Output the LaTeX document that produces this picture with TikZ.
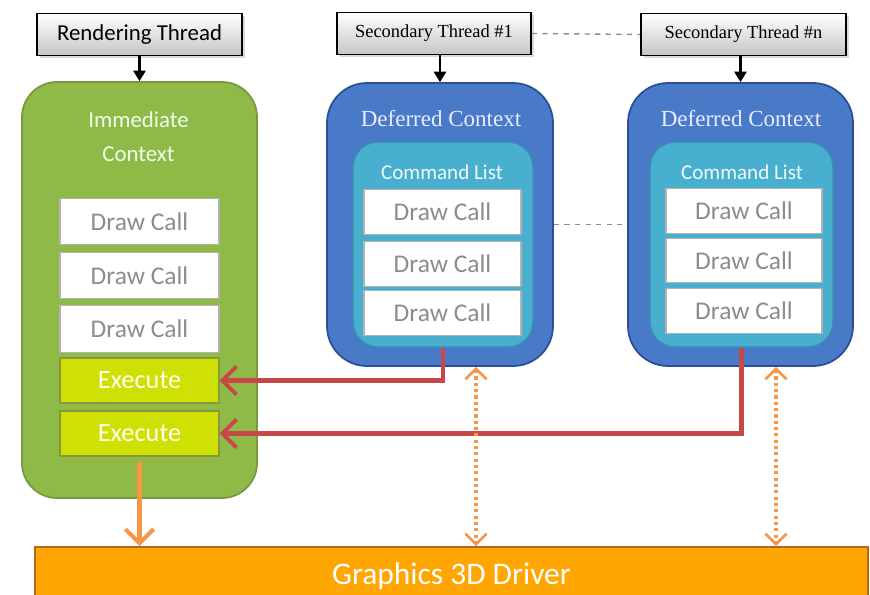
\documentclass[tikz,border=0pt]{standalone}
\usepackage{fontspec}
\setmainfont{Carlito}
\newfontfamily\timesfont{Liberation Serif}
\usetikzlibrary{arrows.meta, positioning, shadows}
\definecolor{ImmGreen}{RGB}{143,186,72}
\definecolor{ImmBorder}{RGB}{118,152,62}
\definecolor{ExecLime}{RGB}{207,224,4}
\definecolor{ExecBorder}{RGB}{140,150,60}
\definecolor{DefBlue}{RGB}{72,122,200}
\definecolor{DefBorder}{RGB}{44,78,150}
\definecolor{ListCyan}{RGB}{72,176,206}
\definecolor{ListBorder}{RGB}{58,140,176}
\definecolor{CallGray}{RGB}{140,140,140}
\definecolor{ArrowRed}{RGB}{200,72,74}
\definecolor{ArrowOrange}{RGB}{247,150,70}
\definecolor{DriverOrange}{RGB}{255,166,0}
\definecolor{DriverBorder}{RGB}{190,100,30}
\definecolor{DashGray}{RGB}{140,140,170}

\tikzset{
	threadbox/.style={draw=black, line width=1pt, top color=white, bottom color=gray!45,
		drop shadow={opacity=0.3, shadow xshift=1.5pt, shadow yshift=-1.5pt},
		inner sep=0pt, minimum height=0.84cm},
	immbox/.style={draw=ImmBorder, fill=ImmGreen, line width=1pt, rounded corners=0.7cm, inner sep=0pt},
	defbox/.style={draw=DefBorder, fill=DefBlue, line width=1pt, rounded corners=0.8cm, inner sep=0pt},
	listbox/.style={draw=ListBorder, fill=ListCyan, line width=0.8pt, rounded corners=0.5cm, inner sep=0pt},
	callbox/.style={draw=gray!60, fill=white, line width=0.6pt, inner sep=0pt,
		text=CallGray, font=\fontsize{14.5}{16}\selectfont},
	execbox/.style={draw=ExecBorder, fill=ExecLime, line width=0.6pt, inner sep=0pt,
		minimum width=3.18cm, minimum height=0.9cm, text=yellow!8!white, font=\fontsize{15}{17}\selectfont},
	redarrow/.style={draw=ArrowRed, line width=2.3pt, -{Straight Barb[length=8pt, width=16pt, line width=2.3pt]}},
	orangearrow/.style={draw=ArrowOrange, line width=2.3pt, -{Straight Barb[length=8pt, width=16pt, line width=2.3pt]}},
	dotarrow/.style={draw=ArrowOrange, line width=1.8pt, dash pattern=on 1.8pt off 1.8pt,
		{Straight Barb[length=6pt, width=12pt, line width=1.5pt]}-{Straight Barb[length=6pt, width=12pt, line width=1.5pt]}},
	blackarrow/.style={draw=black, line width=1.2pt, -{Triangle[length=6pt, width=7pt]}}
}

\begin{document}
\begin{tikzpicture}
	\useasboundingbox (0,0) rectangle (17.4,11.88);
	% thread boxes
	\node[threadbox, minimum width=4.10cm, font=\fontsize{13}{15}\selectfont] (rt) at (2.79,11.19) {Rendering Thread};
	\node[threadbox, minimum width=3.88cm, font=\timesfont\fontsize{10.5}{12}\selectfont] (st1) at (8.68,11.21) {Secondary Thread \#1};
	\node[threadbox, minimum width=4.10cm, font=\timesfont\fontsize{10.5}{12}\selectfont] (stn) at (14.87,11.19) {Secondary Thread \#n};
	\draw[DashGray, line width=0.8pt, dashed] (st1.east) -- (stn.west);

	% immediate context
	\node[immbox, minimum width=4.70cm, minimum height=8.32cm] (ic) at (2.79,6.08) {};
	\node[align=center, text=green!8!white, font=\fontsize{13}{19}\selectfont] (iclabel) at (2.77,9.15) {Immediate\\Context};
	\foreach \y/\n in {7.45/1, 6.37/2, 5.30/3}
		{\node[callbox, minimum width=3.18cm, minimum height=0.93cm] (icc\n) at (2.79,\y) {Draw Call};}
	\node[execbox] (ex1) at (2.79,4.27) {Execute};
	\node[execbox] (ex2) at (2.79,3.21) {Execute};

	% deferred contexts
	\node[defbox, minimum width=4.52cm, minimum height=5.66cm] (dc1) at (8.80,7.39) {};
	\node[defbox, minimum width=4.50cm, minimum height=5.66cm] (dcn) at (14.81,7.39) {};
	\node[listbox, minimum width=3.60cm, minimum height=4.10cm] (cl1) at (8.86,6.99) {};
	\node[listbox, minimum width=3.66cm, minimum height=4.10cm] (cln) at (14.83,6.99) {};
	\node[text=blue!8!white, font=\timesfont\fontsize{13.1}{15}\selectfont] (dc1label) at (8.82,9.50) {Deferred Context};
	\node[text=blue!8!white, font=\timesfont\fontsize{13.1}{15}\selectfont] (dcnlabel) at (14.82,9.50) {Deferred Context};
	\node[text=cyan!6!white, font=\fontsize{12}{14}\selectfont] (cl1label) at (8.84,8.44) {Command List};
	\node[text=cyan!6!white, font=\fontsize{12}{14}\selectfont] (clnlabel) at (14.84,8.44) {Command List};
	\foreach \y/\n in {7.64/1, 6.60/2, 5.62/3}
		{\node[callbox, minimum width=3.14cm, minimum height=0.90cm] (dcc\n) at (8.85,\y) {Draw Call};}
	\foreach \y/\n in {7.66/1, 6.67/2, 5.66/3}
		{\node[callbox, minimum width=3.12cm, minimum height=0.89cm] (dnc\n) at (14.88,\y) {Draw Call};}
	\draw[DashGray, line width=0.8pt, dashed] (dc1.east) -- (dcn.west);

	% driver
	\node[draw=DriverBorder, fill=DriverOrange, line width=1pt, minimum width=16.66cm, minimum height=1.16cm,
		inner sep=0pt, text=white, font=\fontsize{17.9}{20}\selectfont] (drv) at (9.03,0.36) {Graphics 3D Driver};

	% arrows
	\draw[blackarrow] (rt.south) -- (ic.north);
	\draw[blackarrow] (st1.south -| dc1.north) -- (dc1.north);
	\draw[blackarrow] (stn.south -| dcn.north) -- (dcn.north);
	\draw[redarrow] (cl1.south) |- (ex1.east);
	\draw[redarrow] (cln.south) |- (ex2.east);
	\draw[orangearrow, shorten <=3pt] (ex2.south) -- (ex2.south |- drv.north);
	\draw[dotarrow] ([xshift=0.72cm]dc1.south) -- ([xshift=0.72cm]dc1.south |- drv.north);
	\draw[dotarrow] ([xshift=0.71cm]dcn.south) -- ([xshift=0.71cm]dcn.south |- drv.north);
\end{tikzpicture}
\end{document}
